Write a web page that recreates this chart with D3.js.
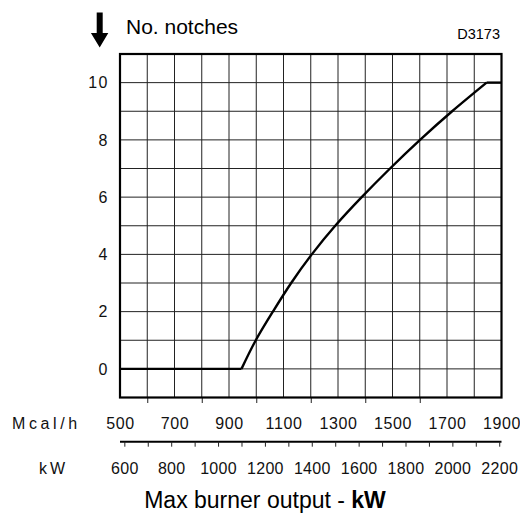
<!DOCTYPE html>
<html>
<head>
<meta charset="utf-8">
<script src="https://cdn.jsdelivr.net/npm/d3@7"></script>
<style>
  body { margin: 0; background: #fff; }
  svg { display: block; }
</style>
</head>
<body>
<svg id="chart" width="520" height="514"></svg>
<script>
// notches vs max burner output (kW)
const outputKw = [581.5, 1100, 1161, 1234, 1312, 1400, 1500, 1613, 1734, 1862, 1999, 2146, 2209.7];
const notches  = [0,     0,    1,    2,    3,    4,    5,    6,    7,    8,    9,    10,   10];

const notchTicks = [0, 2, 4, 6, 8, 10];
const mcalLabels = [500, 700, 900, 1100, 1300, 1500, 1700, 1900];
const mcalTicks = [600, 800, 1000, 1200, 1400, 1600];
const kwTicks = d3.range(600, 2201, 100);
const kwLabels = [600, 800, 1000, 1200, 1400, 1600, 1800, 2000, 2200];

const svg = d3.select('#chart');
const plot = { left: 120, right: 501.5, top: 54, bottom: 397.5 };
const numFont = '"Liberation Sans", Arial, sans-serif';

const x = d3.scaleLinear().domain([500, 1900]).range([plot.left, plot.right]);          // Mcal/h
const xKw = d3.scaleLinear().domain([500 * 1.163, 1900 * 1.163]).range([plot.left, plot.right]);
const y = d3.scaleLinear().domain([-1, 11]).range([plot.bottom, plot.top]);

// grid
const grid = svg.append('g').attr('stroke', '#222').attr('stroke-width', 1);
grid.selectAll('.v')
	.data(d3.range(600, 1900, 100))
	.enter().append('line')
	.attr('x1', d => x(d)).attr('x2', d => x(d))
	.attr('y1', plot.top).attr('y2', plot.bottom);
grid.selectAll('.h')
	.data(d3.range(0, 11, 1))
	.enter().append('line')
	.attr('x1', plot.left).attr('x2', plot.right)
	.attr('y1', d => y(d)).attr('y2', d => y(d));

// short ticks below the frame
const mcalTickAxis = svg.append('g')
	.attr('transform', `translate(0,${plot.bottom})`)
	.call(d3.axisBottom(x).tickValues(mcalTicks).tickSize(5.5).tickFormat(''));
mcalTickAxis.select('.domain').remove();
mcalTickAxis.selectAll('line').attr('stroke', '#222');

// curve: flat start, smooth rise, flat top
const pts = outputKw.map((k, i) => [xKw(k), y(notches[i])]);
const last = pts.length - 1;
const curveGroup = svg.append('g')
	.attr('fill', 'none')
	.attr('stroke', '#000')
	.attr('stroke-width', 2.4)
	.attr('stroke-linejoin', 'round');
curveGroup.append('path').attr('d', d3.line()([pts[0], pts[1]]));
curveGroup.append('path').attr('d', d3.line().curve(d3.curveNatural)(pts.slice(1, last)));
curveGroup.append('path').attr('d', d3.line()([pts[last - 1], pts[last]]));

// frame
svg.append('rect')
	.attr('x', plot.left).attr('y', plot.top)
	.attr('width', plot.right - plot.left).attr('height', plot.bottom - plot.top)
	.attr('fill', 'none')
	.attr('stroke', '#000')
	.attr('stroke-width', 2.2);

// y labels
const yAxis = svg.append('g')
	.attr('transform', `translate(${plot.left},0)`)
	.call(d3.axisLeft(y).tickValues(notchTicks).tickSize(0).tickPadding(11));
yAxis.select('.domain').remove();
yAxis.selectAll('text')
	.attr('font-family', numFont)
	.attr('font-size', 16)
	.attr('letter-spacing', 1.5)
	.attr('fill', '#111');

// Mcal/h labels
const mcalAxis = svg.append('g')
	.attr('transform', `translate(0,${plot.bottom})`)
	.call(d3.axisBottom(x).tickValues(mcalLabels).tickSize(0).tickFormat(d3.format('d')));
mcalAxis.select('.domain').remove();
mcalAxis.selectAll('text')
	.attr('y', 0)
	.attr('dy', 0)
	.attr('transform', 'translate(0,31.5)')
	.attr('font-family', numFont)
	.attr('font-size', 16)
	.attr('letter-spacing', 0.6)
	.attr('fill', '#111');

// kW axis
const kwAxis = svg.append('g')
	.attr('transform', 'translate(0,441.7)')
	.call(d3.axisBottom(xKw)
		.tickValues(kwTicks)
		.tickSize(5)
		.tickSizeOuter(0)
		.tickFormat(d => kwLabels.includes(d) ? d : ''));
kwAxis.select('.domain')
	.attr('stroke', '#000')
	.attr('stroke-width', 2)
	.attr('d', `M${plot.left},0H${plot.right}`);
kwAxis.selectAll('line').attr('stroke', '#222');
kwAxis.selectAll('text')
	.attr('y', 0)
	.attr('dy', 0)
	.attr('transform', 'translate(0,32.5)')
	.attr('font-family', numFont)
	.attr('font-size', 16)
	.attr('letter-spacing', 0.3)
	.attr('fill', '#111');

// unit labels
svg.append('text')
	.attr('x', 12).attr('y', 429)
	.attr('font-family', numFont)
	.attr('font-size', 16)
	.attr('letter-spacing', 3.6)
	.attr('fill', '#111')
	.text('Mcal/h');
svg.append('text')
	.attr('x', 39).attr('y', 474.2)
	.attr('font-family', numFont)
	.attr('font-size', 16)
	.attr('letter-spacing', 3)
	.attr('fill', '#111')
	.text('kW');

// arrow
svg.append('path')
	.attr('d', 'M96.7,12.5H102.7V33H108.3L99.7,47.5L90.9,33H96.7Z')
	.attr('fill', '#000');

svg.append('text')
	.attr('x', 126).attr('y', 34.3)
	.attr('font-family', 'Arial, "Liberation Sans", sans-serif')
	.attr('font-size', 21)
	.attr('fill', '#000')
	.text('No. notches');

svg.append('text')
	.attr('x', 500).attr('y', 39.3)
	.attr('text-anchor', 'end')
	.attr('font-family', 'Arial, "Liberation Sans", sans-serif')
	.attr('font-size', 14.5)
	.attr('fill', '#000')
	.text('D3173');

const title = svg.append('text')
	.attr('x', 265).attr('y', 507.7)
	.attr('text-anchor', 'middle')
	.attr('font-family', 'Arial, "Liberation Sans", sans-serif')
	.attr('font-size', 23)
	.attr('fill', '#000');
title.append('tspan').text('Max burner output - ');
title.append('tspan').attr('font-weight', 'bold').text('kW');
</script>
</body>
</html>
